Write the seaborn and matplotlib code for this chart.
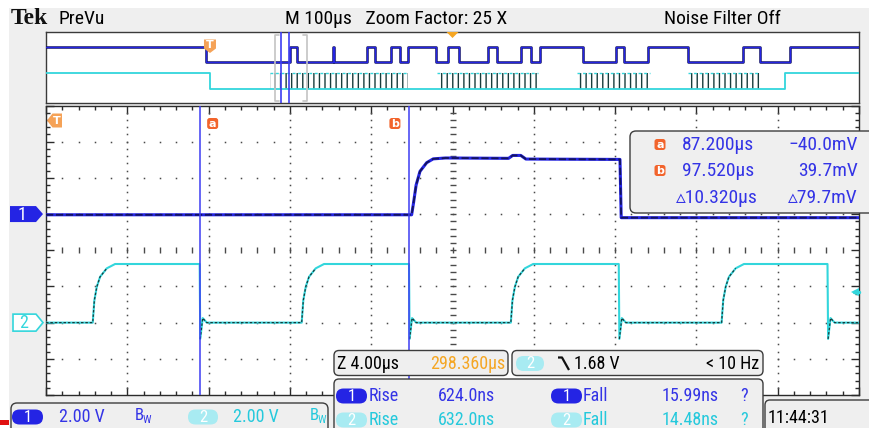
import numpy as np
import matplotlib
matplotlib.use("Agg")
import matplotlib.pyplot as plt
from matplotlib import font_manager
from matplotlib.patches import FancyBboxPatch, Polygon, Rectangle
from matplotlib.ticker import FixedLocator
import seaborn as sns

# ---------------------------------------------------------------- settings
ch1_volts_per_div = 2.00
ch2_volts_per_div = 2.00
ch1_position_div = 1.0
ch2_position_div = -2.0
record_us_per_div = 100.0
zoom_factor = 25
zoom_us_per_div = 4.00
zoom_position_us = 298.360
zoom_start_us = 79.64          # left edge of the zoomed window (trigger = 0 µs)
record_start_us = -201.7       # left edge of the PreVu record
trigger_level_v = 1.68
trigger_freq = "< 10 Hz"
clock = "11:44:31"

cursor_names = ["a", "b"]
cursor_t_us = [87.200, 97.520]
cursor_mv = [-40.0, 39.7]

meas_channels = [1, 2]
meas_rise_ns = [624.0, 632.0]
meas_fall_ns = [15.99, 14.48]

# ---------------------------------------------------------------- zoomed traces
ch1_t_us = [79.64, 97.63, 97.72, 97.85, 98.04, 98.37, 98.69, 99.30, 102.40, 102.60,
            103.00, 103.25, 107.88, 107.94, 119.64]
ch1_v = [-0.04, -0.04, 0.60, 1.60, 2.36, 2.84, 3.05, 3.10, 3.08, 3.24,
         3.24, 3.04, 3.02, -0.20, -0.20]

ch2_rise_us = [81.94, 92.22, 102.51, 112.88]
ch2_fall_us = [87.20, 97.50, 107.82, 118.09]
ch2_rise_dt_us = [0.0, 0.08, 0.20, 0.36, 0.69, 1.10]
ch2_rise_v = [0.0, 1.24, 1.98, 2.53, 3.00, 3.24]
ch2_fall_dt_us = [0.0, 0.03, 0.15, 0.35]
ch2_fall_v = [3.24, -0.90, 0.25, 0.0]
ch2_low_v = 0.0

# ---------------------------------------------------------------- PreVu record
ch1_rec_edges_us = [-4.9, 98.4, 107.0, 151.0, 152.5, 193.1, 203.0, 222.6, 233.7,
                    243.5, 278.0, 292.7, 306.3, 341.9, 353.0, 382.5, 394.8,
                    405.9, 458.8, 499.4, 509.2, 538.7, 587.9, 655.6, 676.5, 713.4]
ch1_rec_high_v, ch1_rec_low_v = 3.10, -0.04
ch2_rec_edges_us = [0.0, 707.3]
ch2_rec_high_v, ch2_rec_low_v = 3.24, 0.0
ch2_rec_bursts_us = [(73.8, 243.5), (279.2, 403.4), (451.4, 541.2), (587.9, 676.5)]

# ---------------------------------------------------------------- look
BLUE = "#2424e4"
BLUE_TXT = "#3434e6"
NAVY = "#14145c"
CYAN = "#33d6dc"
CYAN_TXT = "#25c9dc"
CYAN_PILL = "#a8ebf2"
DARK_TEAL = "#183c3c"
ORANGE = "#f5a623"
BADGE = "#f2642c"
TRIG = "#f5a257"
GRID = "#4a4a4a"
EDGE = "#2b2b2b"
PANEL = "#efefef"

sns.set_theme(style="white")
names = {f.name for f in font_manager.fontManager.ttflist}
UI = next(f for f in ["Liberation Sans Narrow", "Roboto Condensed", "DejaVu Sans"]
          if f in names or f == "DejaVu Sans")
UI_FAMILY = [UI, "DejaVu Sans"]
plt.rcParams["font.family"] = UI_FAMILY
plt.rcParams["hatch.linewidth"] = 1.0

W, H = 869, 428
fig = plt.figure(figsize=(W / 100, H / 100), dpi=100)
fig.patch.set_facecolor("white")


def px_rect(x0, y0, x1, y1):
    return [x0 / W, 1 - y1 / H, (x1 - x0) / W, (y1 - y0) / H]


bg = fig.add_axes([0, 0, 1, 1], zorder=0)
fg = fig.add_axes([0, 0, 1, 1], zorder=5)
for a in (bg, fg):
    a.set_xlim(0, W)
    a.set_ylim(H, 0)
    a.axis("off")
fg.patch.set_alpha(0)
bg.add_patch(Rectangle((9, 8), W, H, color=PANEL, lw=0))

ax = fig.add_axes(px_rect(46, 105.5, 859, 395), zorder=2)
ov = fig.add_axes(px_rect(46, 32, 859, 103), zorder=2)

# ---------------------------------------------------------------- main graticule
t_end = zoom_start_us + 10 * zoom_us_per_div
ax.set_facecolor("white")
for s in ax.spines.values():
    s.set_color(EDGE)
    s.set_linewidth(1.0)
major_x = zoom_start_us + zoom_us_per_div * np.arange(11)
minor_x = zoom_start_us + zoom_us_per_div / 5 * np.arange(51)
ax.xaxis.set_major_locator(FixedLocator(major_x))
ax.xaxis.set_minor_locator(FixedLocator(minor_x))
ax.yaxis.set_major_locator(FixedLocator(np.arange(-4, 5)))
ax.yaxis.set_minor_locator(FixedLocator(np.round(np.arange(-4, 4.01, 0.2), 2)))
ax.tick_params(which="both", direction="in", top=True, right=True, bottom=True, left=True,
               labelbottom=False, labelleft=False, color=EDGE, width=1)
ax.tick_params(which="major", length=5.5)
ax.tick_params(which="minor", length=3)

inner_x = minor_x[1:-1]
inner_y = np.round(np.arange(-3.8, 3.81, 0.2), 2)
for yl in [-3, -2, -1, 1, 2, 3]:
    ax.plot(inner_x, np.full(len(inner_x), yl), ls="none", marker="s", ms=1.1,
            mew=0, color=GRID, zorder=1)
for k in [1, 2, 3, 4, 6, 7, 8, 9]:
    ax.plot(np.full(len(inner_y), major_x[k]), inner_y, ls="none", marker="s", ms=1.1,
            mew=0, color=GRID, zorder=1)
ax.plot(inner_x, np.zeros(len(inner_x)), ls="none", marker="|", ms=4.5, mew=1,
        color=GRID, zorder=1)
ax.plot(np.full(len(inner_y), major_x[5]), inner_y, ls="none", marker="_", ms=4.5, mew=1,
        color=GRID, zorder=1)

# ---------------------------------------------------------------- zoomed traces
ch2_t, ch2_v = [zoom_start_us], [ch2_low_v]
for r, f in zip(ch2_rise_us, ch2_fall_us):
    ch2_t += [r + d for d in ch2_rise_dt_us]
    ch2_v += ch2_rise_v
    ch2_t += [f + d for d in ch2_fall_dt_us]
    ch2_v += ch2_fall_v
ch2_t.append(t_end)
ch2_v.append(ch2_low_v)
ch2_t = np.array(ch2_t)
ch2_y = np.array(ch2_v) / ch2_volts_per_div + ch2_position_div
ch1_y = np.array(ch1_v) / ch1_volts_per_div + ch1_position_div

sns.lineplot(x=ch2_t, y=ch2_y, ax=ax, color=CYAN, linewidth=1.5, estimator=None,
             sort=False, zorder=3)
# darker persistence samples on the low level and the edges
ch2_dark = np.where(np.array(ch2_v) >= 3.2, np.nan, ch2_y)
ax.plot(ch2_t, ch2_dark, color=DARK_TEAL, linewidth=0.9, zorder=3,
        linestyle=(0, (2, 1.5)))
sns.lineplot(x=ch1_t_us, y=ch1_y, ax=ax, color=BLUE, linewidth=2.2, estimator=None,
             sort=False, zorder=4)
ax.plot(ch1_t_us, ch1_y, color=NAVY, linewidth=1.3, zorder=4, linestyle=(0, (4, 1.5)))

for t in cursor_t_us:
    ax.axvline(t, color="#3d3df2", lw=1.1, zorder=5)

ax.set_xlim(zoom_start_us, t_end)
ax.set_ylim(-4, 4)
ax.set_xlabel("")
ax.set_ylabel("")

# trigger level indicator on the right edge
trig_y = trigger_level_v / ch2_volts_per_div + ch2_position_div
ax.plot([t_end - 0.22], [trig_y], marker="<", ms=6, color=CYAN, mew=0, zorder=6,
        clip_on=False)
ax.plot([t_end - 0.25, t_end - 0.02], [trig_y, trig_y], color=CYAN, lw=2.5, zorder=6,
        clip_on=False)

# ---------------------------------------------------------------- PreVu overview
rec_end = record_start_us + 10 * record_us_per_div
OV_CH1, OV_CH2 = 8.2, 2.8
ov.set_xlim(record_start_us, rec_end)
ov.set_ylim(0, 14.2)
ov.set_facecolor("white")
for s in ov.spines.values():
    s.set_color("#3a3a3a")
    s.set_linewidth(1.0)
ov.set_xticks([])
ov.set_yticks([])


def step_trace(edges, high, low, start_high=True):
    t = [record_start_us] + list(edges) + [rec_end]
    lv = []
    state = start_high
    for _ in range(len(edges) + 1):
        lv.append(high if state else low)
        state = not state
    lv.append(lv[-1])
    return np.array(t), np.array(lv)


t1, v1 = step_trace(ch1_rec_edges_us, ch1_rec_high_v, ch1_rec_low_v)
t2, v2 = step_trace(ch2_rec_edges_us, ch2_rec_high_v, ch2_rec_low_v)

for s, e in ch2_rec_bursts_us:
    ov.fill_between([s, e], ch2_rec_low_v + OV_CH2, ch2_rec_high_v + OV_CH2,
                    facecolor="none", edgecolor=DARK_TEAL, hatch="|||", lw=0, zorder=2)
    ov.plot([s, e], [ch2_rec_high_v + OV_CH2] * 2, color=CYAN, lw=1.0, zorder=2,
            linestyle=(0, (2, 2)))
sns.lineplot(x=t2, y=v2 + OV_CH2, ax=ov, color=CYAN, linewidth=1.3, estimator=None,
             sort=False, drawstyle="steps-post", zorder=3)
sns.lineplot(x=t1, y=v1 + OV_CH1, ax=ov, color=NAVY, linewidth=1.8, estimator=None,
             sort=False, drawstyle="steps-post", zorder=3)
sns.lineplot(x=t1, y=v1 + OV_CH1, ax=ov, color=BLUE, linewidth=0.9, estimator=None,
             sort=False, drawstyle="steps-post", zorder=3)

# zoom window brackets and cursor positions
zw0, zw1 = zoom_start_us, t_end
stub = 5.0
ov.plot([zw0 + stub, zw0, zw0, zw0 + stub], [13.7, 13.7, 0.35, 0.35], color="#c4c4c4", lw=1.2, zorder=4)
ov.plot([zw1 - stub, zw1, zw1, zw1 - stub], [13.7, 13.7, 0.35, 0.35], color="#c4c4c4", lw=1.2, zorder=4)
for t in cursor_t_us:
    ov.axvline(t, color="#3d3df2", lw=1.2, zorder=5)
ov.set_xlabel("")
ov.set_ylabel("")
ov.set_xlim(record_start_us, rec_end)
ov.set_ylim(0, 14.2)


# ---------------------------------------------------------------- helpers
def to_px(axis, x, y):
    X, Y = axis.transData.transform((x, y))
    return X, H - Y


def rbox(x0, y0, x1, y1, r=5, fc=PANEL, ec="#3c3c3c", lw=1.0, z=2):
    fg.add_patch(FancyBboxPatch((x0, y0), x1 - x0, y1 - y0,
                                boxstyle=f"round,pad=0,rounding_size={r}",
                                fc=fc, ec=ec, lw=lw, zorder=z))


def label(x, y, s, color="black", size=13, ha="left", **kw):
    fg.text(x, y, s, color=color, fontsize=size, ha=ha, va="center",
            family=UI_FAMILY, zorder=6, **kw)


def pill(x0, x1, yc, text, fc, tc="white", h=15, size=12):
    rbox(x0, yc - h / 2, x1, yc + h / 2, r=h / 2, fc=fc, ec="none", z=4)
    label((x0 + x1) / 2, yc + 0.5, text, color=tc, size=size, ha="center")


def badge(xc, yc, letter):
    rbox(xc - 5.5, yc - 5.5, xc + 5.5, yc + 5.5, r=2.5, fc=BADGE, ec="none", z=4)
    fg.text(xc, yc, letter, color="white", fontsize=8, ha="center", va="center",
            family="DejaVu Sans", weight="bold", zorder=6)


# ---------------------------------------------------------------- header
fg.text(11, 18, "Tek", fontsize=17, weight="bold", family=["Liberation Serif", "DejaVu Serif"],
        va="center", ha="left", color="#111111", zorder=6)
label(58, 19, "PreVu", size=14)
label(285, 19, f"M {record_us_per_div:.0f}µs   Zoom Factor: {zoom_factor} X", size=14)
label(664, 19, "Noise Filter Off", size=14)

# overview markers
ox0, oy_top = to_px(ov, record_start_us, 14.2)
ox1, _ = to_px(ov, rec_end, 14.2)
oc = (ox0 + ox1) / 2
fg.add_patch(Polygon([(oc - 6, oy_top), (oc + 6, oy_top), (oc, oy_top + 6)],
                     closed=True, fc=ORANGE, ec="none", zorder=6))
tx, _ = to_px(ov, 0.0, 0)
fg.add_patch(Polygon([(tx - 6, 39.5), (tx + 6, 39.5), (tx + 6, 48.5), (tx, 53), (tx - 6, 48.5)],
                     closed=True, fc=TRIG, ec="none", zorder=6))
fg.text(tx, 45, "T", color="white", fontsize=8, ha="center", va="center",
        family="DejaVu Sans", weight="bold", zorder=7)

# main-window trigger marker (trigger lies left of the window)
fg.add_patch(Polygon([(47, 120.5), (52.5, 113.5), (62, 113.5), (62, 127.5), (52.5, 127.5)],
                     closed=True, fc=TRIG, ec="none", zorder=6))
fg.text(57, 120.5, "T", color="white", fontsize=8, ha="center", va="center",
        family="DejaVu Sans", weight="bold", zorder=7)

# cursor badges
ax_top = to_px(ax, zoom_start_us, 4)[1]
ca, _ = to_px(ax, cursor_t_us[0], 0)
cb, _ = to_px(ax, cursor_t_us[1], 0)
badge(ca + 13, ax_top + 18, cursor_names[0])
badge(cb - 14.5, ax_top + 18, cursor_names[1])

# channel reference flags
_, y1p = to_px(ax, zoom_start_us, ch1_position_div)
_, y2p = to_px(ax, zoom_start_us, ch2_position_div)
fg.add_patch(Polygon([(10, y1p - 8), (36, y1p - 8), (43, y1p), (36, y1p + 8), (10, y1p + 8)],
                     closed=True, fc=BLUE, ec="none", zorder=6))
label(22, y1p + 0.5, "1", color="white", size=13, ha="center")
fg.add_patch(Polygon([(13, y2p - 8.5), (36, y2p - 8.5), (43, y2p), (36, y2p + 8.5), (13, y2p + 8.5)],
                     closed=True, fc="white", ec=CYAN, lw=1.2, zorder=6))
label(24, y2p + 0.5, "2", color=CYAN, size=13, ha="center")

# ---------------------------------------------------------------- cursor readout
rbox(630, 131, 885, 213, r=6)
rows_y = [144.5, 170.5, 197.5]
for i, name in enumerate(cursor_names):
    badge(660, rows_y[i], name)
    label(754, rows_y[i], f"{cursor_t_us[i]:.3f}µs", color=BLUE_TXT, size=14, ha="right")
    label(858, rows_y[i], f"{cursor_mv[i]:.1f}mV".replace("-", "\u2212"), color=BLUE_TXT,
          size=14, ha="right")
label(758, rows_y[2], f"\u25b5{cursor_t_us[1] - cursor_t_us[0]:.3f}µs", color=BLUE_TXT,
      size=14, ha="right")
label(858, rows_y[2], f"\u25b5{cursor_mv[1] - cursor_mv[0]:.1f}mV", color=BLUE_TXT,
      size=14, ha="right")

# ---------------------------------------------------------------- bottom readouts
# vertical settings
rbox(11, 403, 328, 445, r=6)
red_y = 422
fg.add_patch(Rectangle((0, red_y - 2.5), 9, 5, color="#e01010", lw=0, zorder=6))
pill(12, 43, 417, "1", BLUE)
label(59, 417, f"{ch1_volts_per_div:.2f} V", color=BLUE_TXT, size=13)
label(135, 416, "B", color=BLUE_TXT, size=12)
label(143, 420, "W", color=BLUE_TXT, size=8)
pill(188, 218, 417, "2", CYAN_PILL)
label(233, 417, f"{ch2_volts_per_div:.2f} V", color=CYAN_TXT, size=13)
label(310, 416, "B", color=CYAN_TXT, size=12)
label(318, 420, "W", color=CYAN_TXT, size=8)

# horizontal settings
rbox(334, 350.5, 508, 375.5, r=5)
label(337, 364, f"Z {zoom_us_per_div:.2f}µs", size=13)
label(505, 364, f"{zoom_position_us:.3f}µs", color=ORANGE, size=13, ha="right")

# trigger settings
rbox(512, 350.5, 763, 375.5, r=5)
pill(516, 544, 363.5, "2", CYAN_PILL)
fg.plot([558, 562, 569], [357.5, 357.5, 370], color="#111111", lw=1.6, zorder=6,
        solid_capstyle="butt")
label(574, 364, f"{trigger_level_v:.2f} V", size=13)
label(759, 364, trigger_freq, size=13, ha="right")

# measurements
rbox(334, 379, 763, 445, r=5)
meas_y = [396, 420]
for i, ch in enumerate(meas_channels):
    col = BLUE_TXT if ch == 1 else CYAN_TXT
    pfc = BLUE if ch == 1 else CYAN_PILL
    pill(336, 367, meas_y[i], str(ch), pfc)
    label(369, meas_y[i], "Rise", color=col, size=13)
    label(495, meas_y[i], f"{meas_rise_ns[i]:.1f}ns", color=col, size=13, ha="right")
    pill(551, 582, meas_y[i], str(ch), pfc)
    label(583, meas_y[i], "Fall", color=col, size=13)
    label(719, meas_y[i], f"{meas_fall_ns[i]:.2f}ns", color=col, size=13, ha="right")
    label(744, meas_y[i], "?", color=col, size=13, ha="center")

# clock
rbox(765, 400, 890, 445, r=5)
label(768, 418, clock, size=13)

fig.savefig("out.png", dpi=100, facecolor=fig.get_facecolor())
